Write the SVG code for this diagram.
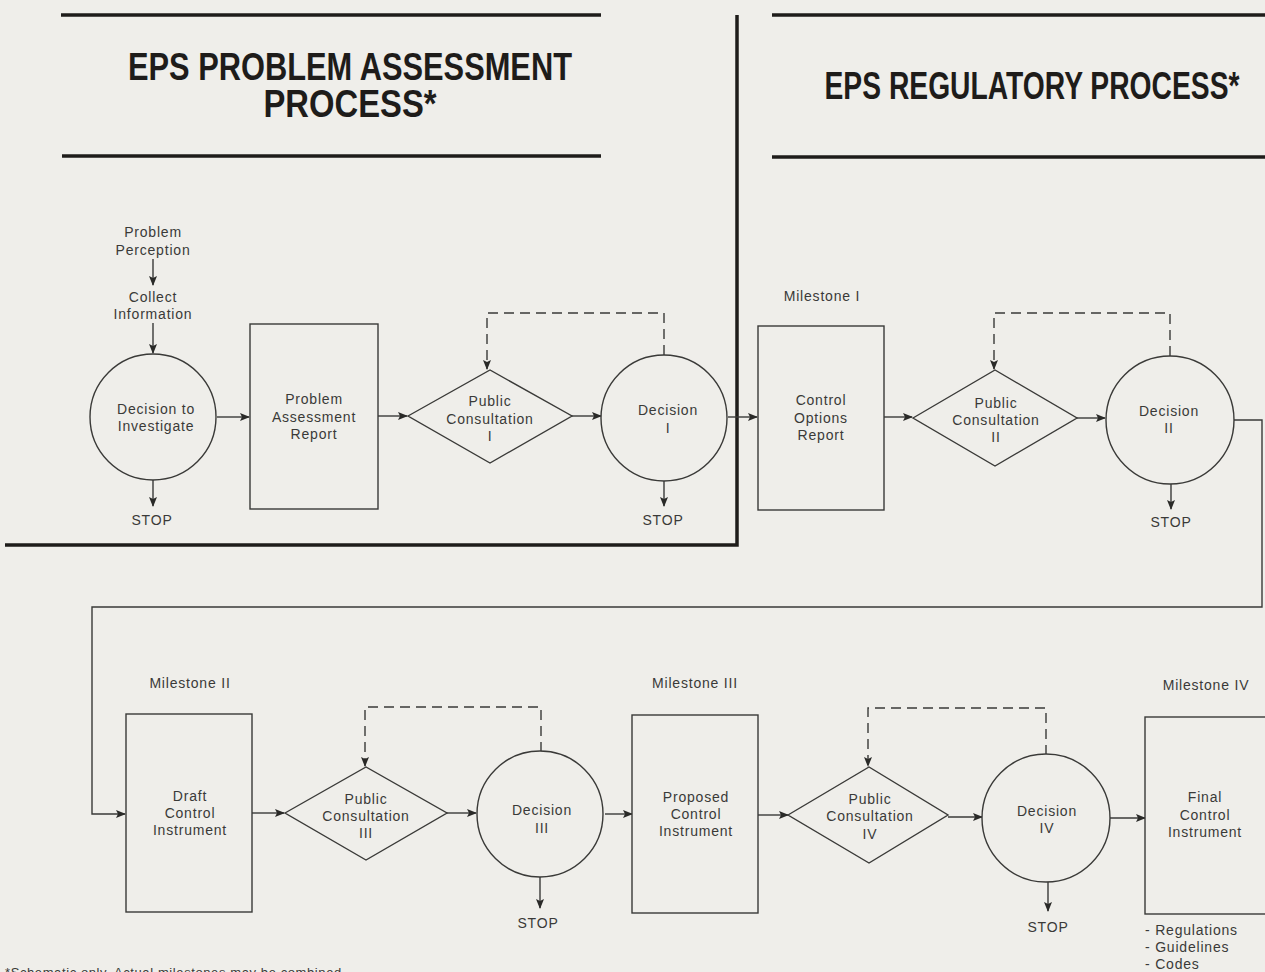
<svg xmlns="http://www.w3.org/2000/svg" width="1265" height="972" viewBox="0 0 1265 972">
<style>
.t{font-family:"Liberation Sans",Arial,sans-serif;font-size:14px;fill:#3a3a38;letter-spacing:0.8px;text-anchor:middle}
.h{font-family:"Liberation Sans",Arial,sans-serif;font-weight:bold;font-size:38px;fill:#1e1c1a;text-anchor:middle}
.s{fill:none;stroke:#3a3a38;stroke-width:1.4}
.d{fill:none;stroke:#3a3a38;stroke-width:1.4;stroke-dasharray:10 6}
.rule{stroke:#1e1c1a;stroke-width:3.5;fill:none}
.sh{fill:#efeeea;stroke:#3a3a38;stroke-width:1.4}
</style>
<defs>
<marker id="ah" markerWidth="10" markerHeight="8" refX="9" refY="4" orient="auto" markerUnits="userSpaceOnUse">
<path d="M0,0 L10,4 L0,8 L2,4 z" fill="#2a2a28"/>
</marker>
</defs>
<rect width="1265" height="972" fill="#efeeea"/>

<g id="headers">
<line class="rule" x1="61" y1="15" x2="601" y2="15"/>
<line class="rule" x1="62" y1="156" x2="601" y2="156"/>
<text class="h" x="350" y="80" textLength="444" lengthAdjust="spacingAndGlyphs">EPS PROBLEM ASSESSMENT</text>
<text class="h" x="350" y="117" textLength="173" lengthAdjust="spacingAndGlyphs">PROCESS*</text>
<line class="rule" x1="772" y1="15" x2="1265" y2="15"/>
<line class="rule" x1="772" y1="157" x2="1265" y2="157"/>
<text class="h" x="1032" y="99" textLength="415" lengthAdjust="spacingAndGlyphs">EPS REGULATORY PROCESS*</text>
<path class="rule" d="M737,15 V545 H5" stroke-width="4"/>
</g>

<g id="connectors">
<line class="s" x1="153" y1="259" x2="153" y2="285" marker-end="url(#ah)"/>
<line class="s" x1="153" y1="323" x2="153" y2="353" marker-end="url(#ah)"/>
<line class="s" x1="153" y1="480" x2="153" y2="506" marker-end="url(#ah)"/>
<line class="s" x1="217" y1="417" x2="249" y2="417" marker-end="url(#ah)"/>
<line class="s" x1="378" y1="416" x2="407" y2="416" marker-end="url(#ah)"/>
<line class="s" x1="572" y1="416" x2="601" y2="416" marker-end="url(#ah)"/>
<path class="d" d="M664,355 V313 H487 V369" marker-end="url(#ah)"/>
<line class="s" x1="664" y1="481" x2="664" y2="506" marker-end="url(#ah)"/>
<line class="s" x1="728" y1="417" x2="757" y2="417" marker-end="url(#ah)"/>
<line class="s" x1="884" y1="417" x2="912" y2="417" marker-end="url(#ah)"/>
<line class="s" x1="1077" y1="418" x2="1105" y2="418" marker-end="url(#ah)"/>
<path class="d" d="M1170,356 V313 H994 V369" marker-end="url(#ah)"/>
<line class="s" x1="1171" y1="483" x2="1171" y2="509" marker-end="url(#ah)"/>
<path class="s" d="M1234,420 H1262 V607 H92 V814 H125" marker-end="url(#ah)"/>
<line class="s" x1="252" y1="813" x2="284" y2="813" marker-end="url(#ah)"/>
<path class="d" d="M541,752 V707 H365 V766" marker-end="url(#ah)"/>
<line class="s" x1="447" y1="813" x2="476" y2="813" marker-end="url(#ah)"/>
<line class="s" x1="540" y1="876" x2="540" y2="908" marker-end="url(#ah)"/>
<line class="s" x1="605" y1="814" x2="632" y2="814" marker-end="url(#ah)"/>
<line class="s" x1="758" y1="815" x2="788" y2="815" marker-end="url(#ah)"/>
<path class="d" d="M1046,755 V708 H868 V766" marker-end="url(#ah)"/>
<line class="s" x1="948" y1="817" x2="982" y2="817" marker-end="url(#ah)"/>
<line class="s" x1="1048" y1="882" x2="1048" y2="911" marker-end="url(#ah)"/>
<line class="s" x1="1110" y1="818" x2="1145" y2="818" marker-end="url(#ah)"/>
</g>

<g id="problem-perception">
<text class="t" x="153" y="237">Problem</text>
<text class="t" x="153" y="255">Perception</text>
</g>
<g id="collect-information">
<text class="t" x="153" y="302">Collect</text>
<text class="t" x="153" y="319">Information</text>
</g>
<g id="decision-to-investigate">
<circle class="sh" cx="153" cy="417" r="63"/>
<text class="t" x="156" y="414">Decision to</text>
<text class="t" x="156" y="431">Investigate</text>
</g>
<g id="stop-0"><text class="t" x="152" y="525">STOP</text></g>

<g id="problem-assessment-report">
<rect class="sh" x="250" y="324" width="128" height="185"/>
<text class="t" x="314" y="404">Problem</text>
<text class="t" x="314" y="422">Assessment</text>
<text class="t" x="314" y="439">Report</text>
</g>

<g id="public-consultation-1">
<path class="sh" d="M408,416 L490,370 L572,416 L490,463 Z"/>
<text class="t" x="490" y="406">Public</text>
<text class="t" x="490" y="424">Consultation</text>
<text class="t" x="490" y="441">I</text>
</g>

<g id="decision-1">
<circle class="sh" cx="664" cy="418" r="63"/>
<text class="t" x="668" y="415">Decision</text>
<text class="t" x="668" y="433">I</text>
</g>
<g id="stop-1"><text class="t" x="663" y="525">STOP</text></g>

<g id="milestone-1"><text class="t" x="822" y="301">Milestone I</text></g>
<g id="control-options-report">
<rect class="sh" x="758" y="326" width="126" height="184"/>
<text class="t" x="821" y="405">Control</text>
<text class="t" x="821" y="423">Options</text>
<text class="t" x="821" y="440">Report</text>
</g>

<g id="public-consultation-2">
<path class="sh" d="M913,418 L995,370 L1077,418 L995,466 Z"/>
<text class="t" x="996" y="408">Public</text>
<text class="t" x="996" y="425">Consultation</text>
<text class="t" x="996" y="442">II</text>
</g>

<g id="decision-2">
<circle class="sh" cx="1170" cy="420" r="64"/>
<text class="t" x="1169" y="416">Decision</text>
<text class="t" x="1169" y="433">II</text>
</g>
<g id="stop-2"><text class="t" x="1171" y="527">STOP</text></g>

<g id="milestone-2"><text class="t" x="190" y="688">Milestone II</text></g>
<g id="draft-control-instrument">
<rect class="sh" x="126" y="714" width="126" height="198"/>
<text class="t" x="190" y="801">Draft</text>
<text class="t" x="190" y="818">Control</text>
<text class="t" x="190" y="835">Instrument</text>
</g>

<g id="public-consultation-3">
<path class="sh" d="M285,813 L366,767 L447,813 L366,860 Z"/>
<text class="t" x="366" y="804">Public</text>
<text class="t" x="366" y="821">Consultation</text>
<text class="t" x="366" y="838">III</text>
</g>

<g id="decision-3">
<circle class="sh" cx="540" cy="814" r="63"/>
<text class="t" x="542" y="815">Decision</text>
<text class="t" x="542" y="833">III</text>
</g>
<g id="stop-3"><text class="t" x="538" y="928">STOP</text></g>

<g id="milestone-3"><text class="t" x="695" y="688">Milestone III</text></g>
<g id="proposed-control-instrument">
<rect class="sh" x="632" y="715" width="126" height="198"/>
<text class="t" x="696" y="802">Proposed</text>
<text class="t" x="696" y="819">Control</text>
<text class="t" x="696" y="836">Instrument</text>
</g>

<g id="public-consultation-4">
<path class="sh" d="M788,815 L869,767 L948,815 L869,863 Z"/>
<text class="t" x="870" y="804">Public</text>
<text class="t" x="870" y="821">Consultation</text>
<text class="t" x="870" y="839">IV</text>
</g>

<g id="decision-4">
<circle class="sh" cx="1046" cy="818" r="64"/>
<text class="t" x="1047" y="816">Decision</text>
<text class="t" x="1047" y="833">IV</text>
</g>
<g id="stop-4"><text class="t" x="1048" y="932">STOP</text></g>

<g id="milestone-4"><text class="t" x="1206" y="690">Milestone IV</text></g>
<g id="final-control-instrument">
<rect class="sh" x="1145" y="717" width="125" height="197"/>
<text class="t" x="1205" y="802">Final</text>
<text class="t" x="1205" y="820">Control</text>
<text class="t" x="1205" y="837">Instrument</text>
<text class="t" x="1145" y="935" style="text-anchor:start">- Regulations</text>
<text class="t" x="1145" y="952" style="text-anchor:start">- Guidelines</text>
<text class="t" x="1145" y="969" style="text-anchor:start">- Codes</text>
</g>

<g id="footnote">
<text class="t" x="5" y="977" style="text-anchor:start;font-size:13px;letter-spacing:0.6px">*Schematic only. Actual milestones may be combined.</text>
</g>
</svg>
